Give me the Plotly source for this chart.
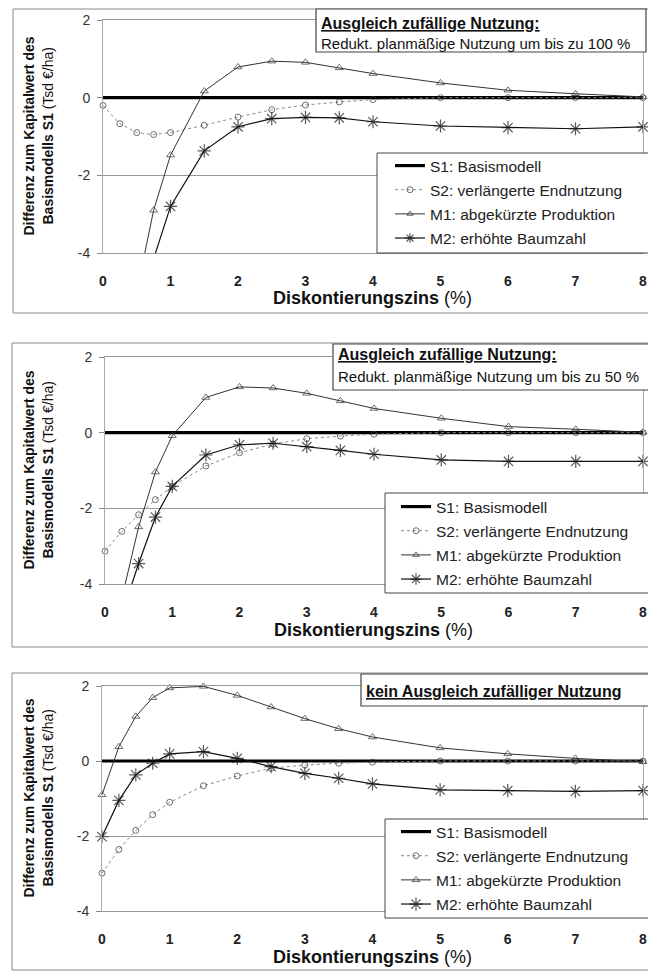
import plotly.graph_objects as go

# the page body adds an 8 px margin, so the figure is sized to fit the window
OFF = 8
W, H = 656 - OFF, 971 - OFF

# ---------------- data ----------------
X = [0, 0.25, 0.5, 0.75, 1, 1.5, 2, 2.5, 3, 3.5, 4, 5, 6, 7, 8]
X_TICKS = [0, 1, 2, 3, 4, 5, 6, 7, 8]
Y_TICKS = [-4, -2, 0, 2]
Y_TICK_LABELS = ["-4", "-2", "0", "2"]
NAMES = ["S1: Basismodell", "S2: verlängerte Endnutzung",
         "M1: abgekürzte Produktion", "M2: erhöhte Baumzahl"]

S1 = [0, 0, 0, 0, 0, 0, 0, 0, 0, 0, 0, 0, 0, 0, 0]

# panel 1: Ausgleich zufällige Nutzung, Reduktion bis zu 100 %
p1_S2 = [-0.2, -0.67, -0.9, -0.95, -0.9, -0.71, -0.5, -0.31, -0.19, -0.11, -0.05, 0, 0, 0, 0]
p1_M1 = [None, None, -5.0, -2.9, -1.48, 0.17, 0.79, 0.94, 0.91, 0.77, 0.62, 0.38, 0.19, 0.1, 0.02]
p1_M2 = [None, None, None, -4.15, -2.8, -1.37, -0.75, -0.54, -0.51, -0.52, -0.62, -0.73, -0.77, -0.8, -0.75]

# panel 2: Ausgleich zufällige Nutzung, Reduktion bis zu 50 %
p2_S2 = [-3.13, -2.61, -2.17, -1.77, -1.42, -0.88, -0.53, -0.3, -0.16, -0.09, -0.04, 0, 0, 0, 0]
p2_M1 = [None, -4.38, -2.49, -1.04, -0.08, 0.93, 1.21, 1.18, 1.04, 0.84, 0.64, 0.38, 0.16, 0.09, 0.01]
p2_M2 = [None, -4.81, -3.46, -2.23, -1.42, -0.59, -0.32, -0.28, -0.37, -0.47, -0.57, -0.72, -0.76, -0.76, -0.76]

# panel 3: kein Ausgleich zufälliger Nutzung
p3_S2 = [-2.99, -2.36, -1.85, -1.43, -1.1, -0.66, -0.4, -0.19, -0.11, -0.06, -0.03, 0, 0, 0, 0]
p3_M1 = [-0.9, 0.38, 1.19, 1.69, 1.95, 1.99, 1.75, 1.44, 1.13, 0.86, 0.64, 0.35, 0.19, 0.07, -0.02]
p3_M2 = [-2.02, -1.05, -0.37, -0.06, 0.19, 0.25, 0.07, -0.15, -0.33, -0.46, -0.61, -0.77, -0.79, -0.81, -0.79]

TITLE1 = ["<b><u>Ausgleich zufällige Nutzung:</u></b>",
          "Redukt. planmäßige Nutzung um bis zu 100 %"]
TITLE2 = ["<b><u>Ausgleich zufällige Nutzung:</u></b>",
          "Redukt. planmäßige Nutzung um bis zu 50 %"]
TITLE3 = ["<b><u>kein Ausgleich zufälliger Nutzung</u></b>"]

X_TITLE = "<b>Diskontierungszins</b> (%)"
Y_TITLE = ["<b>Differenz zum Kapitalwert des</b>", "<b>Basismodells S1</b> (Tsd €/ha)"]

# ---------------- layout geometry (window pixels) ----------------
panels = [
    dict(s2=p1_S2, m1=p1_M1, m2=p1_M2, title=TITLE1,
         px_x=(103, 643), px_y=(20, 253), frame=(13, 9, 655, 313),
         tbox=(316, 9, 646, 52), ttext_x=319, ttext_y=[23, 43],
         lbox=(377, 153, 653, 253), leg=(390, 149), xt_y=298),
    dict(s2=p2_S2, m1=p2_M1, m2=p2_M2, title=TITLE2,
         px_x=(105, 643), px_y=(357, 584), frame=(12, 343, 655, 647),
         tbox=(333, 344, 655, 390), ttext_x=336, ttext_y=[354, 377],
         lbox=(385, 493, 652, 593), leg=(396, 490), xt_y=630),
    dict(s2=p3_S2, m1=p3_M1, m2=p3_M2, title=TITLE3,
         px_x=(102, 643), px_y=(686, 911), frame=(12, 673, 655, 970),
         tbox=(361, 674, 653, 706), ttext_x=364, ttext_y=[691],
         lbox=(385, 819, 652, 918), leg=(396, 815), xt_y=957),
]

def fx(p):
    return (p - OFF) / W

def fy(p):
    return 1 - (p - OFF) / H

FONT = "Liberation Sans, Arial, sans-serif"
fig = go.Figure()
shapes, annots = [], []
layout = dict(width=W, height=H, margin=dict(l=0, r=0, t=0, b=0, pad=0, autoexpand=False),
              paper_bgcolor="white", plot_bgcolor="white",
              font=dict(family=FONT, color="#222"), showlegend=True)

def msize(vals, s):
    return [s if (v is not None and -4 <= v <= 2) else 0 for v in vals]

for i, p in enumerate(panels, start=1):
    xa = "x" if i == 1 else f"x{i}"
    ya = "y" if i == 1 else f"y{i}"
    lg = "legend" if i == 1 else f"legend{i}"
    common = dict(x=X, xaxis=xa, yaxis=ya, legend=lg, mode="lines+markers",
                  cliponaxis=False)
    fig.add_trace(go.Scatter(y=S1, name=NAMES[0], mode="lines", x=X, xaxis=xa,
                             yaxis=ya, legend=lg, legendgroup=f"a{i}",
                             line=dict(color="black", width=3.2)))
    fig.add_trace(go.Scatter(y=p["s2"], name=NAMES[1], legendgroup=f"b{i}",
                             line=dict(color="#8a8a8a", width=1, dash="dot"),
                             marker=dict(symbol="circle-open", size=msize(p["s2"], 6),
                                         color="#333", line=dict(width=1)),
                             **common))
    fig.add_trace(go.Scatter(y=p["m1"], name=NAMES[2], legendgroup=f"c{i}",
                             line=dict(color="#333", width=1),
                             marker=dict(symbol="triangle-up-open", size=msize(p["m1"], 7),
                                         color="#333", line=dict(width=1)),
                             **common))
    fig.add_trace(go.Scatter(y=p["m2"], name=NAMES[3], legendgroup=f"d{i}",
                             line=dict(color="#111", width=1.2),
                             marker=dict(symbol="asterisk-open", size=msize(p["m2"], 11),
                                         color="#111", line=dict(width=1.2)),
                             **common))

    x0, x1 = p["px_x"]
    y0, y1 = p["px_y"]
    layout["xaxis" if i == 1 else f"xaxis{i}"] = dict(
        domain=[fx(x0), fx(x1)], range=[0, 8], anchor=ya, automargin=False,
        tickvals=X_TICKS, ticks="", showgrid=False, zeroline=False,
        showline=True, mirror=True, linecolor="#999", linewidth=1,
        tickfont=dict(family=FONT, size=14, color="#222", weight="bold"),
        ticklabelstandoff=15)
    layout["yaxis" if i == 1 else f"yaxis{i}"] = dict(
        domain=[fy(y1), fy(y0)], range=[-4, 2], anchor=xa, automargin=False,
        tickvals=Y_TICKS, ticktext=Y_TICK_LABELS,
        ticks="outside", ticklen=5, tickcolor="#888",
        showgrid=True, gridcolor="#999", gridwidth=1, zeroline=False,
        showline=True, mirror=True, linecolor="#aaa", linewidth=1,
        tickfont=dict(family=FONT, size=14, color="#333"),
        ticklabelstandoff=4)
    lx, ly = p["leg"]
    layout[lg] = dict(x=fx(lx), y=fy(ly), xanchor="left", yanchor="top",
                      bgcolor="rgba(0,0,0,0)", borderwidth=0,
                      font=dict(family=FONT, size=15.5, color="#222"),
                      traceorder="grouped", tracegroupgap=1, itemwidth=30)

    # outer panel frame
    fx0, fy0, fx1, fy1 = p["frame"]
    shapes.append(dict(type="rect", xref="paper", yref="paper",
                       x0=fx(fx0), x1=fx(fx1), y0=fy(fy0), y1=fy(fy1),
                       line=dict(color="#888", width=1), layer="below"))
    # legend box
    bx0, by0, bx1, by1 = p["lbox"]
    shapes.append(dict(type="rect", xref="paper", yref="paper",
                       x0=fx(bx0), x1=fx(bx1), y0=fy(by0), y1=fy(by1),
                       line=dict(color="#444", width=1), fillcolor="white",
                       layer="above"))
    # title box
    tx0, ty0, tx1, ty1 = p["tbox"]
    shapes.append(dict(type="rect", xref="paper", yref="paper",
                       x0=fx(tx0), x1=fx(tx1), y0=fy(ty0), y1=fy(ty1),
                       line=dict(color="#444", width=1.2), fillcolor="white",
                       layer="above"))
    for j, (t, yy) in enumerate(zip(p["title"], p["ttext_y"])):
        annots.append(dict(text=t, xref="paper", yref="paper",
                           x=fx(p["ttext_x"]), y=fy(yy), xanchor="left",
                           yanchor="middle", showarrow=False,
                           font=dict(family=FONT, size=16 if j == 0 else 15,
                                     color="#111")))
    # axis titles
    annots.append(dict(text=X_TITLE, xref="paper", yref="paper",
                       x=fx((x0 + x1) / 2), y=fy(p["xt_y"]), xanchor="center",
                       yanchor="middle", showarrow=False,
                       font=dict(family=FONT, size=18, color="#111")))
    for t, xx in zip(Y_TITLE, [28, 47]):
        annots.append(dict(text=t, xref="paper", yref="paper",
                           x=fx(xx), y=fy((y0 + y1) / 2), xanchor="center",
                           yanchor="middle", textangle=-90, showarrow=False,
                           font=dict(family=FONT, size=14, color="#111")))

layout["shapes"] = shapes
layout["annotations"] = annots
fig.update_layout(**layout)
fig.write_html("out.html")
